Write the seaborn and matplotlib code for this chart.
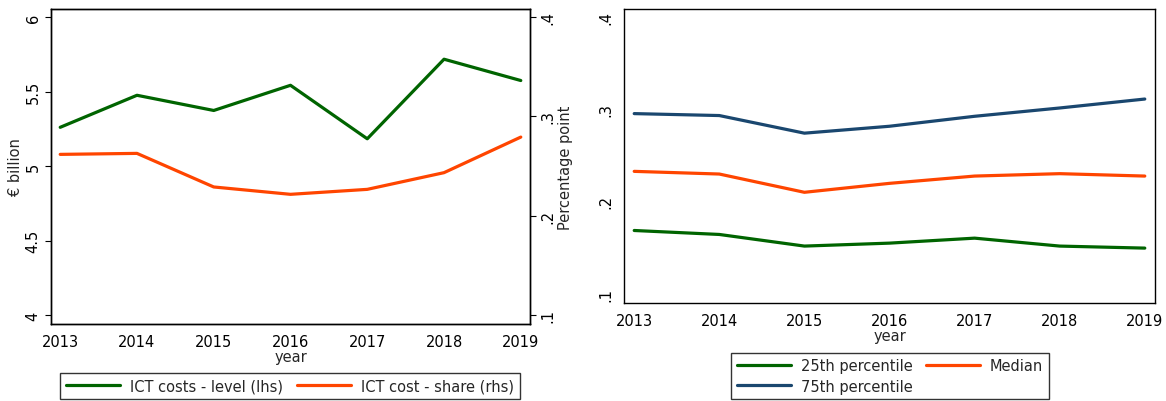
import matplotlib.pyplot as plt
import seaborn as sns
import pandas as pd

# Data
years = [2013, 2014, 2015, 2016, 2017, 2018, 2019]
ict_level = [5.26, 5.475, 5.373, 5.542, 5.183, 5.717, 5.574]
ict_share = [0.2617, 0.2627, 0.2289, 0.2215, 0.2265, 0.2433, 0.2791]
p25 = [0.1685, 0.1642, 0.1516, 0.1548, 0.1602, 0.1516, 0.1494]
median = [0.2326, 0.2297, 0.2099, 0.2196, 0.2275, 0.2301, 0.2275]
p75 = [0.2952, 0.2931, 0.2740, 0.2815, 0.2923, 0.3013, 0.3110]

left_ticks = [4, 4.5, 5, 5.5, 6]
left_ticklabels = ["4", "4.5", "5", "5.5", "6"]
share_ticks = [0.1, 0.2, 0.3, 0.4]
share_ticklabels = [".1", ".2", ".3", ".4"]

GREEN = "#006400"
ORANGE = "#ff4500"
NAVY = "#1a476f"
LW = 2.3
FS = 10.5


def style_axes(ax):
    for s in ax.spines.values():
        s.set_color("black")
        s.set_linewidth(1.0)
    ax.tick_params(direction="out", length=4, width=0.8, colors="black", labelsize=FS)
    ax.set_xticks(years)
    ax.set_xlim(2012.88, 2019.12)
    ax.set_xlabel("year", fontsize=FS, labelpad=0)


def legend_kw():
    return dict(fontsize=FS, frameon=True, fancybox=False, edgecolor="black",
                handlelength=3.7, handletextpad=0.7, columnspacing=0.9,
                borderpad=0.4, labelspacing=0.35)


def main():
    sns.set_style("white")
    plt.rcParams["font.family"] = ["DejaVu Sans"]

    fig = plt.figure(figsize=(11.66, 4.02), dpi=100)
    W, H = 1166, 402

    # left panel
    ax1 = fig.add_axes([51 / W, 1 - 325 / H, (530 - 51) / W, (325 - 10) / H])
    df_l = pd.DataFrame({"year": years, "level": ict_level, "share": ict_share})
    sns.lineplot(data=df_l, x="year", y="level", ax=ax1, color=GREEN, lw=LW,
                 label="ICT costs - level (lhs)", legend=False)
    ax1.set_ylim(3.94, 6.054)
    ax1.set_yticks(left_ticks)
    ax1.set_yticklabels(left_ticklabels, rotation=90, va="center")
    ax1.set_ylabel("€ billion", fontsize=FS, labelpad=2)
    style_axes(ax1)

    ax2 = ax1.twinx()
    sns.lineplot(data=df_l, x="year", y="share", ax=ax2, color=ORANGE, lw=LW,
                 label="ICT cost - share (rhs)", legend=False)
    ax2.set_ylim(0.091, 0.408)
    ax2.set_yticks(share_ticks)
    ax2.set_yticklabels(share_ticklabels, rotation=90, va="center")
    ax2.set_ylabel("Percentage point", fontsize=FS, labelpad=2)
    style_axes(ax2)

    h1, l1 = ax1.get_legend_handles_labels()
    h2, l2 = ax2.get_legend_handles_labels()
    fig.legend(h1 + h2, l1 + l2, ncol=2, loc="center",
               bbox_to_anchor=(290 / W, 1 - 387 / H), **legend_kw())

    # right panel
    ax3 = fig.add_axes([624 / W, 1 - 304 / H, (1155 - 624) / W, (304 - 10) / H])
    df_r = pd.DataFrame({
        "year": years * 3,
        "value": p25 + median + p75,
        "series": ["25th percentile"] * 7 + ["Median"] * 7 + ["75th percentile"] * 7,
    })
    sns.lineplot(data=df_r, x="year", y="value", hue="series", ax=ax3,
                 palette={"25th percentile": GREEN, "Median": ORANGE, "75th percentile": NAVY},
                 lw=LW, legend=False)
    ax3.set_ylim(0.0899, 0.4086)
    ax3.set_yticks(share_ticks)
    ax3.set_yticklabels(share_ticklabels, rotation=90, va="center")
    ax3.set_ylabel("")
    style_axes(ax3)

    # column-wise fill: col 1 = 25th, 75th ; col 2 = Median
    handles = [plt.Line2D([], [], color=c, lw=LW) for c in (GREEN, NAVY, ORANGE)]
    labels = ["25th percentile", "75th percentile", "Median"]
    fig.legend(handles, labels, ncol=2, loc="center",
               bbox_to_anchor=(890 / W, 1 - 377 / H), **legend_kw())

    fig.savefig("out.png", dpi=100)


if __name__ == "__main__":
    main()
